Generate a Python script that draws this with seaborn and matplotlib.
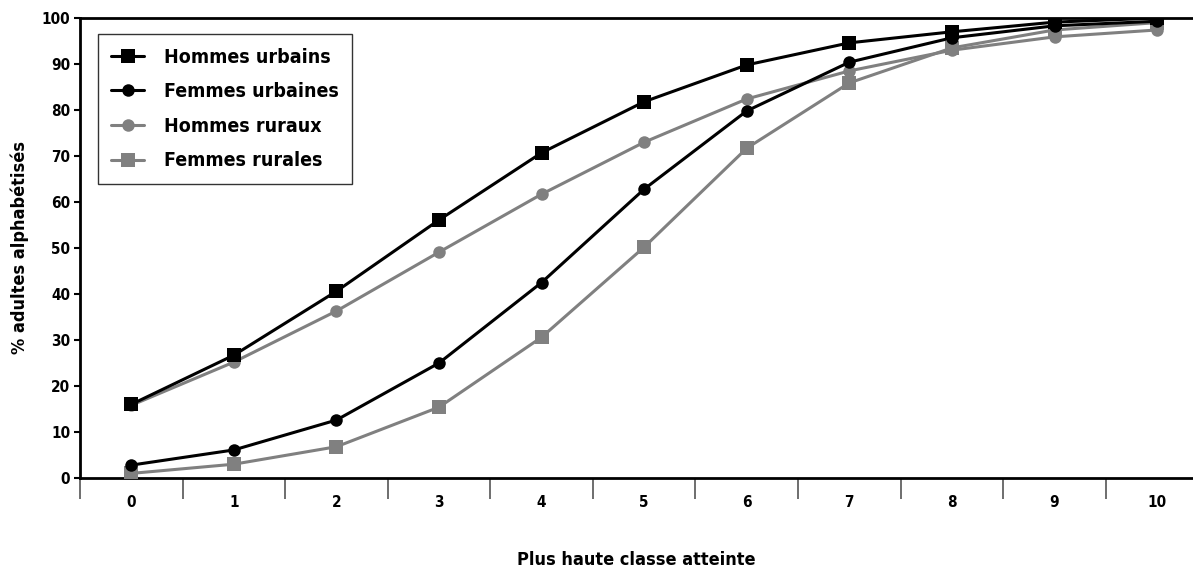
import numpy as np
import pandas as pd
import matplotlib
matplotlib.use("Agg")
import matplotlib.pyplot as plt
import seaborn as sns

# Data
classes = list(range(11))
class_labels = [str(c) for c in classes]
hommes_urbains = [16.0, 26.7, 40.6, 56.1, 70.7, 81.8, 89.8, 94.6, 97.0, 99.1, 100.0]
femmes_urbaines = [2.8, 6.1, 12.6, 25.0, 42.5, 62.8, 79.8, 90.4, 95.7, 98.3, 99.3]
hommes_ruraux = [15.8, 25.2, 36.3, 49.1, 61.7, 73.0, 82.4, 88.5, 93.0, 95.9, 97.4]
femmes_rurales = [1.0, 3.0, 6.8, 15.4, 30.6, 50.2, 71.7, 85.9, 93.5, 97.4, 99.0]

series_names = ["Hommes urbains", "Femmes urbaines", "Hommes ruraux", "Femmes rurales"]
series_values = [hommes_urbains, femmes_urbaines, hommes_ruraux, femmes_rurales]
series_colors = ["#000000", "#000000", "#808080", "#808080"]
series_markers = ["s", "o", "o", "s"]
series_msize = [10, 9, 9, 10]

sns.set_style("white")
plt.rcParams["font.family"] = ["DejaVu Sans"]
plt.rcParams["font.stretch"] = "condensed"
plt.rcParams["font.weight"] = "bold"
plt.rcParams["text.color"] = "black"
plt.rcParams["xtick.color"] = "black"
plt.rcParams["ytick.color"] = "black"
plt.rcParams["axes.labelcolor"] = "black"

fig = plt.figure(figsize=(11.93, 5.73), dpi=100)
ax = fig.add_axes([80 / 1193, 1 - 478 / 573, 1 - 80 / 1193, (478 - 18) / 573])

# gray series first so black ones sit on top
order = [3, 2, 1, 0]
for i in order:
    df = pd.DataFrame({"classe": classes, "pct": series_values[i]})
    sns.lineplot(data=df, x="classe", y="pct", ax=ax, color=series_colors[i],
                 marker=series_markers[i], markersize=series_msize[i],
                 markeredgewidth=0, linewidth=2.2, label=series_names[i],
                 zorder=3 + (3 - i))

ax.set_xlim(-0.5, 10.35)
ax.set_ylim(0, 100)
ax.set_yticks(range(0, 101, 10))
ax.set_xticks(classes)
ax.set_xticklabels(class_labels)
ax.set_xticks(np.arange(-0.5, 10, 1), minor=True)
ax.tick_params(axis="both", which="both", bottom=True, left=True)
ax.tick_params(axis="x", which="major", length=0, pad=12, labelsize=11)
ax.tick_params(axis="x", which="minor", length=15, width=1.2, color="#555555", direction="out")
ax.tick_params(axis="y", which="major", length=4, width=1.5, direction="out", pad=3, labelsize=11)

for side in ["left", "bottom", "top"]:
    ax.spines[side].set_linewidth(2)
    ax.spines[side].set_color("black")
ax.spines["right"].set_visible(False)

ax.set_xlabel("Plus haute classe atteinte", fontsize=13, fontweight="bold")
ax.xaxis.set_label_coords(0.5, -0.158)
ax.set_ylabel("% adultes alphabétisés", fontsize=13, fontweight="bold", labelpad=9)

handles, labels = ax.get_legend_handles_labels()
lookup = dict(zip(labels, handles))
leg = ax.legend([lookup[n] for n in series_names], series_names, loc="upper left",
                bbox_to_anchor=(0.016, 0.965), borderaxespad=0, fontsize=14,
                handlelength=1.7, labelspacing=0.8, fancybox=False, frameon=True,
                borderpad=0.7, handletextpad=1.0)
leg.get_frame().set_edgecolor("black")
leg.get_frame().set_linewidth(1)
for t in leg.get_texts():
    t.set_fontweight("bold")

fig.savefig("out.png", dpi=100)
